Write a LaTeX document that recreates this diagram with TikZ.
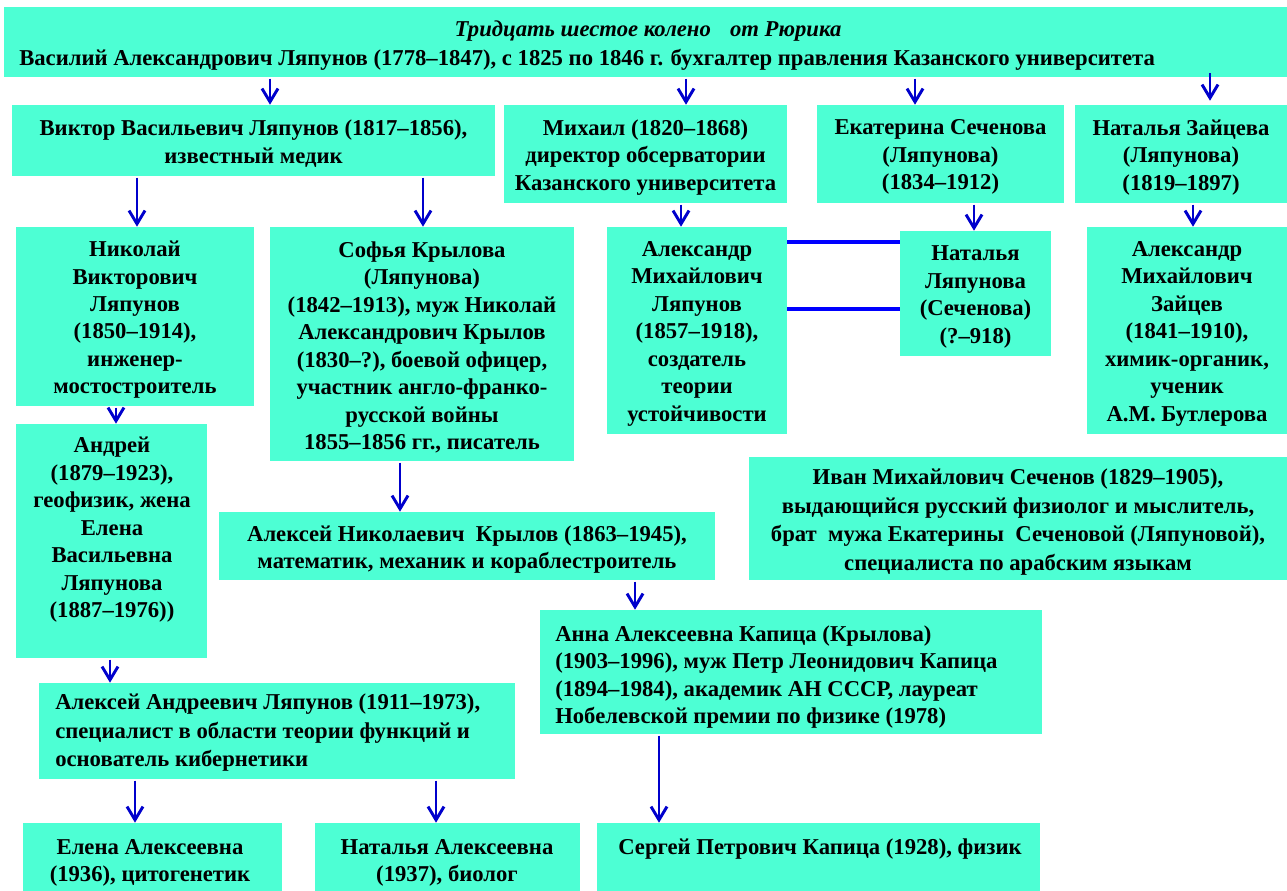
\documentclass[tikz,border=0pt]{standalone}
\usepackage{fontspec}
\setmainfont{Liberation Serif}
\usetikzlibrary{arrows.meta,fit}
\definecolor{boxc}{RGB}{77,255,212}
\definecolor{arrc}{RGB}{0,0,204}
\definecolor{linc}{RGB}{0,0,255}
\newcommand\myfs{\fontsize{17}{20.6}\selectfont}
\newcommand\myfsb{\fontsize{17}{21.4}\selectfont}
\begin{document}
\begin{tikzpicture}[x=0.75pt,y=-0.75pt,
  box/.style={fill=boxc, draw=none, inner sep=0pt},
  txt/.style={inner sep=0pt, font=\bfseries\myfs},
  lbl/.style={txt, align=center, yshift=-2.5pt},
  arr/.style={draw=arrc, line width=2.2pt, shorten <=1pt, -{Straight Barb[length=10pt,width=12pt,line width=2.2pt]}},
  lin/.style={draw=linc, line width=3pt}]
\useasboundingbox[fill=white] (0,0) rectangle (1287,891);
% boxes
\node[box, fit={(4,7)(1287,77)}] (top) {};
\node[box, fit={(12,105)(495,176)}] (vik) {};
\node[box, fit={(504,105)(787,203)}] (mik) {};
\node[box, fit={(817,105)(1064,203)}] (eka) {};
\node[box, fit={(1075,105)(1287,203)}] (zai) {};
\node[box, fit={(16,227)(254,406)}] (nik) {};
\node[box, fit={(270,227)(574,461)}] (sof) {};
\node[box, fit={(607,227)(787,434)}] (aml) {};
\node[box, fit={(900,231)(1051,356)}] (nl) {};
\node[box, fit={(1087,227)(1287,434)}] (zts) {};
\node[box, fit={(16,424)(207,658)}] (and) {};
\node[box, fit={(219,512)(715,580)}] (kry) {};
\node[box, fit={(749,457)(1287,580)}] (iva) {};
\node[box, fit={(540,610)(1042,734)}] (ann) {};
\node[box, fit={(39,683)(515,779)}] (aal) {};
\node[box, fit={(23,823)(282,891)}] (ele) {};
\node[box, fit={(315,823)(580,891)}] (nta) {};
\node[box, fit={(597,823)(1040,891)}] (ser) {};
% texts
\node[txt, font=\bfseries\itshape\myfs] (topa) at (648,31) {Тридцать шестое колено\hspace{0.6em} от Рюрика};
\node[txt, anchor=west] (topb) at (19,60) {Василий Александрович Ляпунов (1778–1847), с 1825 по 1846 г. бухгалтер правления Казанского университета};
\node[lbl] (vikt) at (vik) {Виктор Васильевич Ляпунов (1817–1856),\\ известный медик};
\node[lbl] (mikt) at (mik) {Михаил (1820–1868)\\ директор обсерватории\\ Казанского университета};
\node[lbl] (ekat) at (eka) {Екатерина Сеченова\\ (Ляпунова)\\ (1834–1912)};
\node[lbl] (zait) at (zai) {Наталья Зайцева\\ (Ляпунова)\\ (1819–1897)};
\node[lbl] (nikt) at (nik) {Николай\\ Викторович\\ Ляпунов\\ (1850–1914),\\ инженер-\\ мостостроитель};
\node[lbl] (soft) at (sof) {Софья Крылова\\ (Ляпунова)\\ (1842–1913), муж Николай\\ Александрович Крылов\\ (1830–?), боевой офицер,\\ участник англо-франко-\\ русской войны\\ 1855–1856 гг., писатель};
\node[lbl] (amlt) at (aml) {Александр\\ Михайлович\\ Ляпунов\\ (1857–1918),\\ создатель\\ теории\\ устойчивости};
\node[lbl] (nlt) at (nl) {Наталья\\ Ляпунова\\ (Сеченова)\\ (?–918)};
\node[lbl] (ztst) at (zts) {Александр\\ Михайлович\\ Зайцев\\ (1841–1910),\\ химик-органик,\\ ученик\\ А.М. Бутлерова};
\node[txt, align=center] (andt) at (112,530) {Андрей\\ (1879–1923),\\ геофизик, жена\\ Елена\\ Васильевна\\ Ляпунова\\ (1887–1976))};
\node[lbl] (kryt) at (kry) {Алексей Николаевич\ \ Крылов (1863–1945),\\ математик, механик и кораблестроитель};
\node[lbl, font=\bfseries\myfsb] (ivat) at (iva) {Иван Михайлович Сеченов (1829–1905),\\ выдающийся русский физиолог и мыслитель,\\ брат\ \ мужа Екатерины\ \ Сеченовой (Ляпуновой),\\ специалиста по арабским языкам};
\node[txt, anchor=west, align=left] (annt) at (555,677) {Анна Алексеевна Капица (Крылова)\\ (1903–1996), муж Петр Леонидович Капица\\ (1894–1984), академик АН СССР, лауреат\\ Нобелевской премии по физике (1978)};
\node[txt, anchor=west, align=left, font=\bfseries\myfsb] (aalt) at (55,733) {Алексей Андреевич Ляпунов (1911–1973),\\ специалист в области теории функций и\\ основатель кибернетики};
\node[txt, align=center] (elet) at (150,863) {Елена Алексеевна\\ (1936), цитогенетик};
\node[txt, align=center] (ntat) at (447,863) {Наталья Алексеевна\\ (1937), биолог};
\node[txt] (sert) at (820,849) {Сергей Петрович Капица (1928), физик};
% arrow columns
\coordinate (c1) at (270,0);
\coordinate (c2) at (686,0);
\coordinate (c3) at (915,0);
\coordinate (c4) at (1210,0);
\coordinate (c5) at (137,0);
\coordinate (c6) at (423,0);
\coordinate (c7) at (681,0);
\coordinate (c8) at (974,0);
\coordinate (c9) at (1193,0);
\coordinate (c10) at (116,0);
\coordinate (c11) at (400,0);
\coordinate (c12) at (635,0);
\coordinate (c13) at (110,0);
\coordinate (c14) at (135,0);
\coordinate (c15) at (436,0);
\coordinate (c16) at (659,0);
\draw[arr] (top.south -| c1) -- (vik.north -| c1);
\draw[arr] (top.south -| c2) -- (mik.north -| c2);
\draw[arr] (top.south -| c3) -- (eka.north -| c3);
\draw[arr, shorten <=-3pt, shorten >=3pt] (top.south -| c4) -- (zai.north -| c4);
\draw[arr] (vik.south -| c5) -- (nik.north -| c5);
\draw[arr] (vik.south -| c6) -- (sof.north -| c6);
\draw[arr] (mik.south -| c7) -- (aml.north -| c7);
\draw[arr] (eka.south -| c8) -- (nl.north -| c8);
\draw[arr] (zai.south -| c9) -- (zts.north -| c9);
\draw[arr] (nik.south -| c10) -- (and.north -| c10);
\draw[arr] (sof.south -| c11) -- (kry.north -| c11);
\draw[arr] (kry.south -| c12) -- (ann.north -| c12);
\draw[arr] (and.south -| c13) -- (aal.north -| c13);
\draw[arr] (aal.south -| c14) -- (ele.north -| c14);
\draw[arr] (aal.south -| c15) -- (nta.north -| c15);
\draw[arr] (ann.south -| c16) -- (ser.north -| c16);
% lines
\coordinate (l1) at (0,242);
\coordinate (l2) at (0,309);
\draw[lin] (aml.east |- l1) -- (nl.west |- l1);
\draw[lin] (aml.east |- l2) -- (nl.west |- l2);
\end{tikzpicture}
\end{document}
